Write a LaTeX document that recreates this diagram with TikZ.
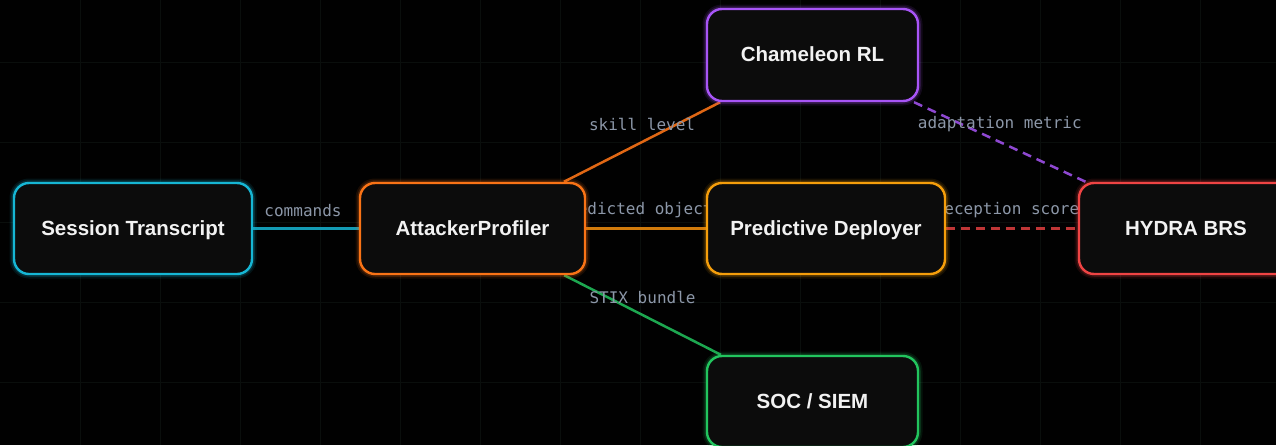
\documentclass[tikz,border=0pt]{standalone}
\usepackage{fontspec}
\setmainfont{Liberation Sans}
\newfontfamily\monof{DejaVu Sans Mono}
\usetikzlibrary{backgrounds}

\definecolor{bgc}{HTML}{010101}
\definecolor{gridc}{HTML}{0A0E0C}
\definecolor{boxfill}{HTML}{0C0C0C}
\definecolor{txt}{HTML}{F2F2F2}
\definecolor{lbl}{HTML}{8C97A8}
\definecolor{cCyan}{HTML}{16B6D4}
\definecolor{cOrange}{HTML}{F97316}
\definecolor{cPurple}{HTML}{A855F7}
\definecolor{cAmber}{HTML}{F59E0B}
\definecolor{cRed}{HTML}{EF4444}
\definecolor{cGreen}{HTML}{22C55E}

\pgfdeclarelayer{edges}
\pgfsetlayers{background,edges,main}

\tikzset{
  box/.style={
    draw=#1, line width=2.4pt, fill=boxfill, rounded corners=15pt,
    inner sep=0pt, text=txt, text height=14.7pt, text depth=1pt,
    font=\fontsize{20.5}{24}\selectfont\bfseries,
    preaction={draw=#1, line width=9pt, opacity=0.10},
    preaction={draw=#1, line width=5.5pt, opacity=0.18}
  },
  link/.style={draw=#1, line width=2.5pt},
  dlink/.style={draw=#1, line width=2.5pt, dash pattern=on 9pt off 6pt},
  elabel/.style={text=lbl, font=\monof\fontsize{16}{18}\selectfont,
    inner sep=0pt, yshift=18pt}
}

\begin{document}
\begin{tikzpicture}[x=1pt, y=-1pt]
  \useasboundingbox (0,0) rectangle (1276,445);
  \clip (0,0) rectangle (1276,445);

  % backdrop and faint grid
  \begin{pgfonlayer}{background}
    \fill[bgc] (0,0) rectangle (1276,445);
    \foreach \gx in {80,160,...,1240}
      \draw[gridc, line width=1pt] (\gx,0) -- (\gx,445);
    \foreach \gy in {62,142,222,302,382}
      \draw[gridc, line width=1pt] (0,\gy) -- (1276,\gy);
  \end{pgfonlayer}

  % components
  \node[box=cCyan,   minimum width=238pt, minimum height=91pt] (sess)  at (133,228.5) {Session Transcript};
  \node[box=cOrange, minimum width=225pt, minimum height=91pt] (prof)  at (472.5,228.5) {AttackerProfiler};
  \node[box=cPurple, minimum width=211pt, minimum height=92pt] (cham)  at (812.5,55) {Chameleon RL};
  \node[box=cAmber,  minimum width=238pt, minimum height=91pt] (pred)  at (826,228.5) {Predictive Deployer};
  \node[box=cRed,    minimum width=214pt, minimum height=91pt] (hydra) at (1186,228.5) {HYDRA BRS};
  \node[box=cGreen,  minimum width=211pt, minimum height=91pt] (soc)   at (812.5,401.5) {SOC / SIEM};

  % data flows, kept beneath the boxes
  \begin{pgfonlayer}{edges}
    \draw[link={cCyan!85!black}] (sess) -- node[midway, elabel, xshift=-3pt] {commands} (prof);
    \draw[link={cOrange!90!black}] (prof) -- node[midway, elabel] {skill level} (cham);
    \draw[link={cAmber!70!cOrange!85!black}] (prof) -- node[midway, elabel, xshift=4pt] {predicted objective} (pred);
    \draw[link={cGreen!85!black}] (prof) -- node[midway, elabel] {STIX bundle} (soc);
    \draw[dlink={cPurple!85!black}] (cham) -- node[midway, elabel] {adaptation metric} (hydra);
    \draw[dlink={cRed!80!black}] (pred) -- node[midway, elabel, xshift=-5pt] {deception score} (hydra);
  \end{pgfonlayer}
\end{tikzpicture}
\end{document}
